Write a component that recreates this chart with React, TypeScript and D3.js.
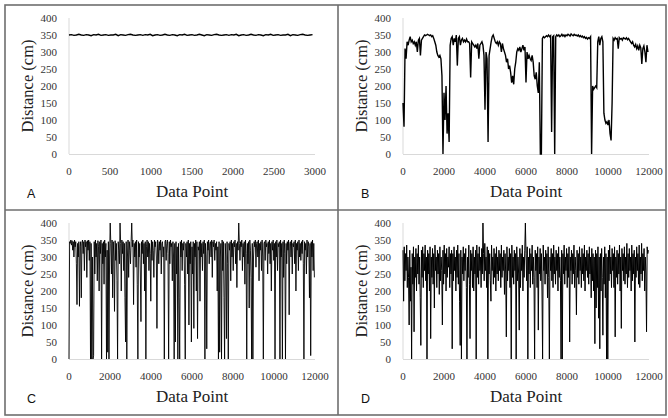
import React from "react";
import * as d3 from "d3";

const yTicks = [0, 50, 100, 150, 200, 250, 300, 350, 400];
const xTicksA = [0, 500, 1000, 1500, 2000, 2500, 3000];
const xTicksLong = [0, 2000, 4000, 6000, 8000, 10000, 12000];

// Panel A: step 30 data points
const seriesA = [350,351,349,350,352,350,349,351,350,348,351,350,352,349,350,351,349,350,350,352,348,351,350,349,351,352,350,349,350,351,349,351,350,352,348,350,351,349,350,352,350,349,351,350,348,351,350,352,349,350,351,349,350,352,350,348,351,350,349,351,352,350,349,350,351,349,351,350,352,348,350,351,349,350,352,350,349,351,350,348,351,350,352,349,350,351,349,350,350,352,348,351,350,349,351,352,350,349,350,351];

// Panel B: step 50 data points
const seriesB = [
150,80,310,280,330,320,335,345,330,335,
325,330,320,330,300,335,340,290,335,340,
345,350,348,350,352,350,348,350,345,348,
340,330,320,300,290,285,290,280,230,0,
180,100,200,60,120,35,320,340,345,320,
340,330,350,260,340,345,320,335,340,330,
335,330,338,330,330,325,225,330,325,320,
315,320,310,325,280,320,325,330,320,290,
130,300,280,35,290,310,330,345,350,340,
330,325,330,320,330,325,300,325,310,300,
290,270,280,250,260,240,210,230,205,250,
270,300,310,305,315,300,310,320,305,315,
210,300,280,290,280,275,290,270,230,220,
240,200,180,270,0,0,340,345,342,345,
348,345,350,345,348,65,345,348,0,345,
350,347,350,345,348,352,347,350,345,350,
348,352,350,347,353,350,348,352,349,350,
347,350,345,348,344,347,342,345,340,343,
338,342,340,345,0,200,190,195,200,195,
330,345,320,340,345,330,120,100,90,95,
85,100,60,40,150,340,335,342,338,340,
310,342,338,340,335,342,340,338,342,336,
340,335,330,325,330,320,315,322,310,318,
305,320,312,265,310,318,300,270,320,300
];

// Panel C: step 30 data points
const seriesC = [
0,345,340,350,335,348,320,345,300,350,330,345,280,160,340,300,345,155,330,345,
180,340,350,310,345,260,350,330,345,240,348,320,350,290,345,0,340,0,300,0,
10,345,250,350,300,340,230,348,330,200,345,310,350,0,340,280,345,220,350,300,
340,0,320,20,345,0,300,400,340,250,350,180,345,300,140,348,290,340,230,0,
345,320,280,400,340,200,350,310,345,260,340,180,50,345,0,300,350,240,345,320,
280,345,400,330,350,160,340,300,345,270,350,220,0,345,300,340,250,110,345,310,
350,280,340,200,345,0,330,350,300,345,260,340,310,170,350,290,345,320,240,350,
330,345,300,90,350,340,280,345,320,350,250,340,345,300,330,0,345,350,290,340,
350,310,0,345,280,350,330,340,230,345,300,0,340,50,345,250,330,0,340,180,
0,345,300,350,260,340,320,345,220,0,340,300,345,250,350,100,340,280,345,50,
330,250,345,90,340,300,350,200,345,60,330,320,345,170,350,300,340,260,345,310,
350,0,340,300,30,345,320,350,280,340,345,300,350,240,345,330,350,290,340,320,
345,200,330,0,345,20,300,340,0,350,260,345,180,0,340,300,60,345,280,0,
340,320,345,230,350,300,340,260,345,330,350,280,340,210,345,320,400,340,290,345,
330,350,260,340,300,345,220,350,310,0,340,280,345,150,350,320,240,0,340,0,
300,345,330,350,270,340,345,300,350,230,340,320,345,260,350,300,0,340,345,290,
350,330,340,250,345,310,350,280,340,200,345,320,350,290,340,0,345,300,350,260,
340,330,345,0,350,300,340,0,345,240,350,310,0,340,280,345,320,350,130,340,
345,300,350,250,340,330,345,280,350,200,340,320,345,260,350,300,340,290,345,310,
350,280,0,345,320,340,250,350,300,345,330,180,340,10,345,300,350,260,340,240
];

// Panel D: step 30 data points
const seriesD = [
320,170,330,230,310,260,335,210,300,240,100,320,170,270,0,310,220,330,80,300,
240,325,200,310,250,335,220,300,180,40,320,240,330,210,310,260,335,230,300,0,
320,250,310,200,330,60,300,240,325,220,310,150,335,260,300,210,320,250,310,190,
330,230,300,260,100,320,220,335,250,310,200,325,240,300,270,330,210,310,250,320,
30,310,230,330,260,300,200,320,240,335,220,310,170,40,320,0,300,250,330,230,
310,260,325,210,0,300,240,335,220,60,320,260,310,210,330,200,300,250,320,0,
335,240,310,220,330,260,300,210,325,250,400,310,230,340,260,300,210,330,0,320,
250,310,230,170,335,260,300,220,325,240,310,200,330,250,300,230,320,260,310,210,
335,240,300,260,320,190,310,250,65,330,230,300,260,325,210,310,0,335,240,300,
220,320,260,310,0,330,230,300,250,85,325,210,310,260,335,200,300,240,320,400,
310,230,330,0,300,250,325,210,310,260,335,220,300,240,0,320,260,310,210,330,
85,300,250,325,230,310,200,0,335,260,300,220,320,250,310,180,330,240,0,300,
260,325,230,310,210,335,250,300,220,320,260,310,200,330,240,300,230,0,320,0,
310,250,335,220,300,260,325,210,310,240,330,50,300,260,320,220,310,250,335,210,
300,260,130,320,240,310,220,330,260,300,210,325,250,310,230,335,200,300,260,320,
240,310,220,330,250,300,180,325,230,310,200,300,45,320,150,310,210,330,120,300,
30,310,200,325,240,70,300,220,330,180,310,0,300,0,320,230,335,250,300,210,
325,260,310,210,330,65,300,240,320,220,310,250,335,200,300,90,325,260,310,230,
330,220,300,250,340,210,310,240,325,260,300,200,335,230,310,250,320,50,300,240,
330,260,310,220,335,210,300,250,340,230,310,260,325,200,300,250,80,330,310,320
];

const W = 668;
const H = 418;
const PL = 69;
const PR = 315;
const PT = 18;
const PB = 154;

const SERIF = "Liberation Serif, Times New Roman, DejaVu Serif, serif";
const SANS = "Liberation Sans, Arial, sans-serif";

type PanelProps = {
  dx: number;
  dy: number;
  data: number[];
  step: number;
  xMax: number;
  xTicks: number[];
  letter: string;
  strokeWidth: number;
};

function Panel({ dx, dy, data, step, xMax, xTicks, letter, strokeWidth }: PanelProps) {
  const x = d3.scaleLinear().domain([0, xMax]).range([PL, PR]);
  const y = d3.scaleLinear().domain([0, 400]).range([PB, PT]);
  const line = d3
    .line<number>()
    .x((_, i) => x(i * step))
    .y((d) => y(d));
  return (
    <g transform={`translate(${dx},${dy})`}>
      <line x1={PL} x2={PL} y1={PT} y2={PB} stroke="#d9d9d9" strokeWidth={1} />
      <line x1={PL} x2={PR} y1={PB + 0.5} y2={PB + 0.5} stroke="#d9d9d9" strokeWidth={1} />
      {yTicks.map((t) => (
        <text key={"y" + t} x={PL - 12} y={y(t) + 3.5} textAnchor="end" style={{ fontFamily: SERIF, fontSize: "11px" }} fill="#333">
          {t}
        </text>
      ))}
      {xTicks.map((t) => (
        <text key={"x" + t} x={x(t)} y={175} textAnchor="middle" style={{ fontFamily: SERIF, fontSize: "11px" }} fill="#333">
          {t}
        </text>
      ))}
      <path d={line(data) || ""} fill="none" stroke="#000" strokeWidth={strokeWidth} strokeLinejoin="miter" />
      <text x={(PL + PR) / 2} y={197} textAnchor="middle" style={{ fontFamily: SERIF, fontSize: "17px" }} fill="#222">
        Data Point
      </text>
      <text
        transform={`translate(33,${(PT + PB) / 2}) rotate(-90)`}
        textAnchor="middle"
        style={{ fontFamily: SERIF, fontSize: "16.5px" }}
        fill="#222"
      >
        Distance (cm)
      </text>
      <text x={27} y={198} style={{ fontFamily: SANS, fontSize: "12.5px" }} fill="#111">
        {letter}
      </text>
    </g>
  );
}

export default function App() {
  return (
    <svg
      width={W}
      height={H}
      style={{ position: "absolute", left: 0, top: 0, background: "#fff" }}
    >
      <rect x={0} y={0} width={W} height={H} fill="#fff" />
      <Panel dx={0} dy={0} data={seriesA} step={30} xMax={3000} xTicks={xTicksA} letter="A" strokeWidth={1.4} />
      <Panel dx={334} dy={0} data={seriesB} step={50} xMax={12000} xTicks={xTicksLong} letter="B" strokeWidth={1.4} />
      <Panel dx={0} dy={205} data={seriesC} step={30} xMax={12000} xTicks={xTicksLong} letter="C" strokeWidth={0.9} />
      <Panel dx={334} dy={205} data={seriesD} step={30} xMax={12000} xTicks={xTicksLong} letter="D" strokeWidth={1.0} />
      <rect x={5} y={5} width={661} height={410} fill="none" stroke="#6e6e6e" strokeWidth={1.6} />
      <line x1={338} x2={338} y1={5} y2={415} stroke="#6e6e6e" strokeWidth={1.6} />
      <line x1={5} x2={666} y1={210} y2={210} stroke="#6e6e6e" strokeWidth={1.6} />
    </svg>
  );
}
